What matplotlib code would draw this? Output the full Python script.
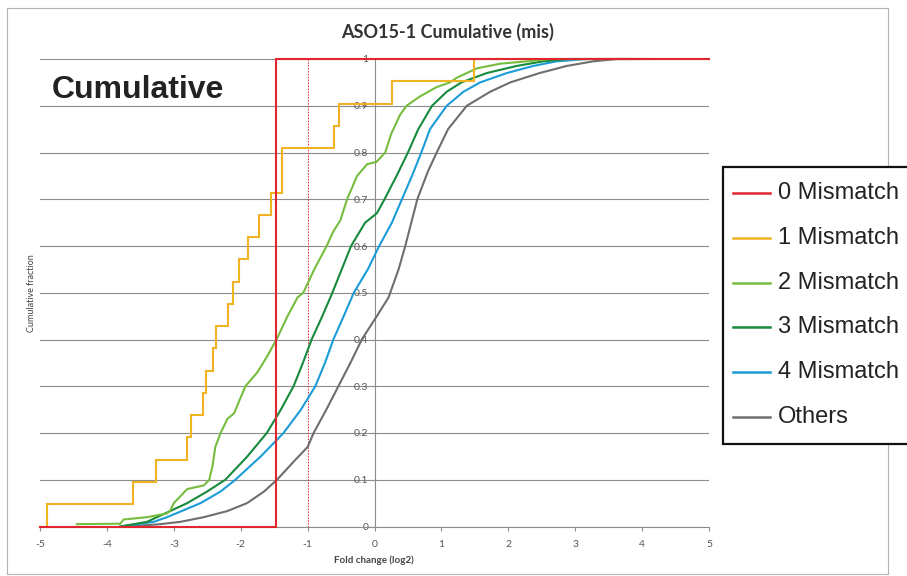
import matplotlib
matplotlib.use("Agg")
import matplotlib.pyplot as plt
from matplotlib.patches import Rectangle
from matplotlib.lines import Line2D

# ---- data ------------------------------------------------------------------
mm0_x = [-5.0, -1.465, -1.465, 5.0]
mm0_y = [0.0, 0.0, 1.0, 1.0]

# 1 mismatch: 21 targets, step positions (x) and cumulative counts
mm1_x = [-5.0, -4.9, -3.61, -3.26, -2.81, -2.75, -2.57, -2.52, -2.42, -2.365,
         -2.19, -2.11, -2.02, -1.89, -1.72, -1.55, -1.39, -0.612, -0.525,
         0.262, 1.48, 5.0]
mm1_n = [0, 1, 2, 3, 4, 5, 6, 7, 8, 9, 10, 11, 12, 13, 14, 15, 17, 18, 19,
         20, 21, 21]
mm1_total = 21

mm2_x = [-4.45, -3.8, -3.75, -3.4, -3.1, -3.05, -3.0, -2.8, -2.55, -2.47,
         -2.42, -2.38, -2.3, -2.2, -2.1, -1.93, -1.75, -1.6, -1.465, -1.3,
         -1.15, -1.065, -0.9, -0.715, -0.62, -0.51, -0.41, -0.26, -0.11, 0.03,
         0.16, 0.25, 0.38, 0.48, 0.68, 0.93, 1.13, 1.23, 1.38, 1.53,
         1.88, 2.28, 2.62, 3.5]
mm2_y = [0.005, 0.006, 0.015, 0.02, 0.028, 0.035, 0.05, 0.08, 0.088, 0.1,
         0.13, 0.17, 0.2, 0.23, 0.242, 0.3, 0.33, 0.365, 0.4, 0.45,
         0.49, 0.5, 0.55, 0.6, 0.63, 0.655, 0.7, 0.75, 0.775, 0.78,
         0.8, 0.84, 0.88, 0.9, 0.92, 0.94, 0.95, 0.96, 0.97, 0.98,
         0.99, 0.995, 1.0, 1.0]

mm3_x = [-3.8, -3.4, -3.25, -2.8, -2.5, -2.23, -1.9, -1.61, -1.4, -1.21,
         -1.07, -0.94, -0.78, -0.63, -0.49, -0.35, -0.14, 0.035, 0.15, 0.33,
         0.5, 0.655, 0.86, 1.08, 1.3, 1.68, 2.12, 2.52, 2.9, 3.8]
mm3_y = [0.0, 0.01, 0.02, 0.05, 0.075, 0.1, 0.15, 0.2, 0.25, 0.3,
         0.35, 0.4, 0.45, 0.5, 0.55, 0.6, 0.65, 0.67, 0.7, 0.75,
         0.8, 0.85, 0.9, 0.93, 0.95, 0.97, 0.985, 0.995, 1.0, 1.0]

mm4_x = [-3.8, -3.3, -3.1, -2.6, -2.3, -2.08, -1.7, -1.36, -1.1, -0.885,
         -0.74, -0.615, -0.46, -0.31, -0.1, 0.07, 0.26, 0.41, 0.56, 0.7,
         0.83, 1.08, 1.33, 1.58, 1.98, 2.37, 2.72, 3.17, 3.9]
mm4_y = [0.0, 0.01, 0.02, 0.05, 0.075, 0.1, 0.15, 0.2, 0.25, 0.3,
         0.35, 0.4, 0.45, 0.5, 0.55, 0.6, 0.65, 0.7, 0.75, 0.8,
         0.85, 0.9, 0.93, 0.95, 0.97, 0.985, 0.995, 1.0, 1.0]

oth_x = [-3.7, -3.2, -2.9, -2.55, -2.2, -1.905, -1.65, -1.458, -1.2, -1.0,
         -0.91, -0.72, -0.54, -0.36, -0.19, 0.035, 0.21, 0.36, 0.46, 0.64,
         0.8, 0.93, 1.1, 1.38, 1.73, 2.03, 2.47, 2.87, 3.27, 3.62, 4.1]
oth_y = [0.0, 0.005, 0.01, 0.02, 0.033, 0.05, 0.075, 0.1, 0.14, 0.17,
         0.2, 0.25, 0.3, 0.35, 0.4, 0.45, 0.49, 0.55, 0.6, 0.7,
         0.76, 0.8, 0.85, 0.9, 0.93, 0.95, 0.97, 0.985, 0.995, 1.0, 1.0]

cutoff_x = -1.0

labels = ["0 Mismatch", "1 Mismatch", "2 Mismatch", "3 Mismatch",
          "4 Mismatch", "Others"]
colors = ["#e0262e", "#f0b323", "#76bd3f", "#178a3c", "#1b9cd8", "#6e6e6e"]

x_ticks = [-5, -4, -3, -2, -1, 0, 1, 2, 3, 4, 5]
y_ticks = [0, 0.1, 0.2, 0.3, 0.4, 0.5, 0.6, 0.7, 0.8, 0.9, 1]
y_ticklabels = ["0", "0.1", "0.2", "0.3", "0.4", "0.5", "0.6", "0.7", "0.8",
                "0.9", "1"]

# ---- figure ------------------------------------------------------------------
W, H = 907, 576
fig = plt.figure(figsize=(W / 100, H / 100), dpi=100)
fig.patch.set_facecolor("white")

# chart area frame
fig.patches.append(Rectangle((7 / W, 1 - 574 / H), (888 - 7) / W, (574 - 8) / H,
                             transform=fig.transFigure, fill=False,
                             ec="#b4b4b4", lw=0.8))

ax = fig.add_axes([40 / W, 1 - 526.5 / H, 669 / W, 467.5 / H])
ax.set_xlim(-5, 5)
ax.set_ylim(0, 1)

ax.yaxis.grid(True, color="#8c8c8c", lw=0.8)
ax.set_axisbelow(True)
for s in ["top", "right"]:
    ax.spines[s].set_visible(False)
ax.spines["left"].set_position(("data", 0))
ax.spines["left"].set_color("#8c8c8c")
ax.spines["bottom"].set_color("#8c8c8c")
ax.spines["left"].set_linewidth(0.8)
ax.spines["bottom"].set_linewidth(0.8)

ax.set_xticks(x_ticks)
ax.set_xticklabels([str(t) for t in x_ticks], family="Lato")
ax.set_yticks(y_ticks)
ax.set_yticklabels(y_ticklabels, family="Lato")
ax.tick_params(axis="x", direction="out", length=3, width=0.8, color="#8c8c8c",
               labelsize=7.5, labelcolor="#555555", pad=7)
ax.tick_params(axis="y", direction="out", length=3, width=0.8, color="#8c8c8c",
               labelsize=7.5, labelcolor="#555555", pad=1.5)

ax.axvline(cutoff_x, color="#e0262e", lw=0.7, ls=(0, (1.5, 1.5)), zorder=2)

mm1_y = [n / mm1_total for n in mm1_n]
series = [
    (mm0_x, mm0_y, "default"),
    (mm1_x, mm1_y, "steps-post"),
    (mm2_x, mm2_y, "default"),
    (mm3_x, mm3_y, "default"),
    (mm4_x, mm4_y, "default"),
    (oth_x, oth_y, "default"),
]
# draw "Others" first so the mismatch curves sit on top of it
for i in [5, 4, 3, 2, 1, 0]:
    xs, ys, ds = series[i]
    ax.plot(xs, ys, color=colors[i], lw=1.5, drawstyle=ds, clip_on=False,
            zorder=4 if i == 0 else 3 + (5 - i) * 0.1,
            solid_joinstyle="miter")

# ---- texts -------------------------------------------------------------------
fig.text(448 / W, 1 - 32 / H, "ASO15-1 Cumulative (mis)", ha="center",
         va="center", fontsize=13, fontweight="bold", family="Lato",
         color="#333333")
fig.text(52 / W, 1 - 98 / H, "Cumulative", ha="left", va="baseline",
         fontsize=23, fontweight="bold", family="Liberation Sans",
         color="#222222")
fig.text(32 / W, 1 - 293 / H, "Cumulative fraction", rotation=90, ha="center",
         va="center", fontsize=6.5, family="Lato", color="#444444")
fig.text(374 / W, 1 - 560 / H, "Fold change (log2)", ha="center", va="center",
         fontsize=7, fontweight="bold", family="Lato", color="#444444")

# ---- legend box (runs off the right edge like the reference) -----------------
fig.patches.append(Rectangle((723 / W, 1 - 444 / H), (920 - 723) / W,
                             (444 - 167) / H, transform=fig.transFigure,
                             fc="white", ec="#111111", lw=1.6, zorder=5))
for k, (lab, col) in enumerate(zip(labels, colors)):
    yy = 1 - (193 + k * 44.8) / H
    fig.add_artist(Line2D([733 / W, 770 / W], [yy, yy],
                          transform=fig.transFigure, color=col, lw=1.8,
                          zorder=6))
    fig.text(778 / W, yy, lab, ha="left", va="center", fontsize=17,
             family="Liberation Sans", color="#222222", zorder=6)

fig.savefig("out.png", dpi=100)
